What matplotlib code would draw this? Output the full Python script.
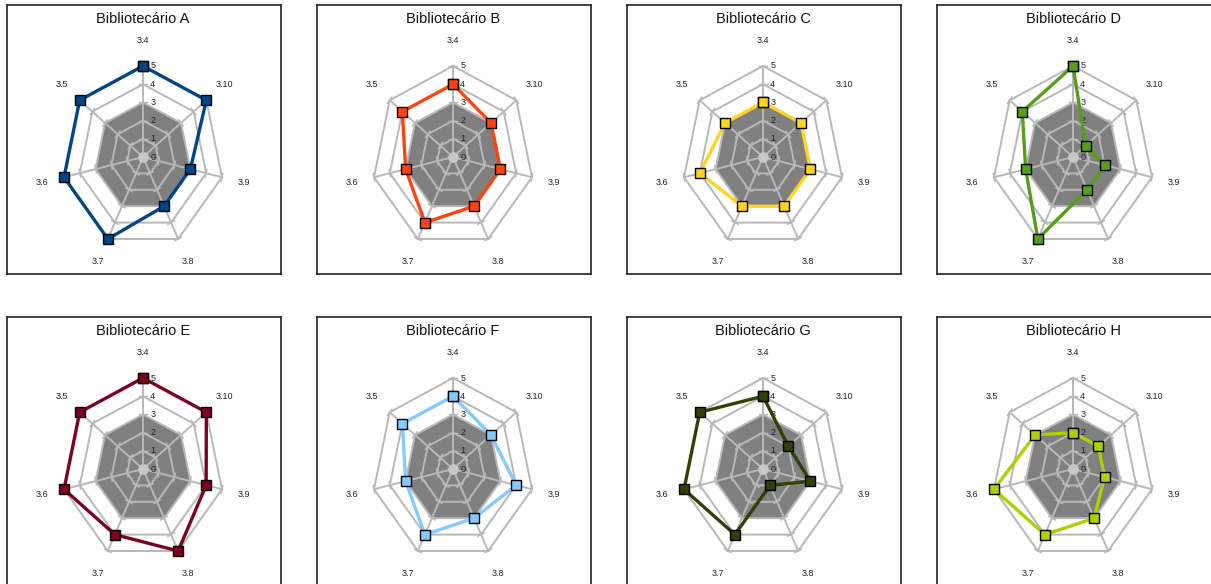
import numpy as np
import matplotlib
matplotlib.use("Agg")
import matplotlib.pyplot as plt

# axes clockwise from the top
categories = ["3.4", "3.10", "3.9", "3.8", "3.7", "3.6", "3.5"]
names = ["Bibliotecário A", "Bibliotecário B", "Bibliotecário C", "Bibliotecário D",
         "Bibliotecário E", "Bibliotecário F", "Bibliotecário G", "Bibliotecário H"]
scores_a = [5, 5, 3, 3, 5, 5, 5]
scores_b = [4, 3, 3, 3, 4, 3, 4]
scores_c = [3, 3, 3, 3, 3, 4, 3]
scores_d = [5, 1, 2, 2, 5, 3, 4]
scores_e = [5, 5, 4, 5, 4, 5, 5]
scores_f = [4, 3, 4, 3, 4, 3, 4]
scores_g = [4, 2, 3, 1, 4, 5, 5]
scores_h = [2, 2, 2, 3, 4, 5, 3]
reference_level = 3          # grey filled area
radial_ticks = [0, 1, 2, 3, 4, 5]

colors = ["#004586", "#ff420e", "#ffd320", "#579d1c",
          "#7e0021", "#83caff", "#314004", "#aecf00"]
all_scores = [scores_a, scores_b, scores_c, scores_d,
              scores_e, scores_f, scores_g, scores_h]

W, H = 1211, 584
fig = plt.figure(figsize=(W / 100, H / 100), dpi=100)
fig.patch.set_facecolor("white")

angles = np.arange(len(categories)) * 2 * np.pi / len(categories)
sx, sy = np.sin(angles), np.cos(angles)

# panel geometry in pixels
pw, ph = 274, 269
lefts = [7, 317, 627, 937]
widths = [274, 274, 274, 280]   # last column runs off the picture
tops = [5, 317]
cx, cy = 136, 152           # centre inside panel (from top-left)
ux, uy = 16.2, 18.2          # pixels per unit
grid_c = "#b8b8b8"


def closed(a):
    return np.append(a, a[0])


for k, (name, vals, col) in enumerate(zip(names, all_scores, colors)):
    left = lefts[k % 4]
    pw = widths[k % 4]
    top = tops[k // 4]
    ax = fig.add_axes([left / W, (H - top - ph) / H, pw / W, ph / H])
    ax.set_xlim(-cx / ux, (pw - cx) / ux)
    ax.set_ylim(-(ph - cy) / uy, cy / uy)
    ax.set_xticks([])
    ax.set_yticks([])
    for s in ax.spines.values():
        s.set_color("#222222")
        s.set_linewidth(1.2)

    # grey reference area
    ax.fill(closed(reference_level * sx), closed(reference_level * sy),
            color="#808080", zorder=1, lw=0)

    # rings + spokes
    for r in radial_ticks[1:]:
        ax.plot(closed(r * sx), closed(r * sy), color=grid_c, lw=1.4, zorder=2)
    for i in range(len(angles)):
        ax.plot([0, 5 * sx[i]], [0, 5 * sy[i]], color=grid_c, lw=1.4, zorder=2)
        # small tick marks across each spoke
        px, py = sy[i], -sx[i]
        for r in radial_ticks[1:]:
            ax.plot([r * sx[i] - 0.22 * px, r * sx[i] + 0.22 * px],
                    [r * sy[i] - 0.22 * py, r * sy[i] + 0.22 * py],
                    color=grid_c, lw=1.0, zorder=2)
    ax.scatter([0], [0], s=60, color="#c8c8c8", zorder=2, lw=0)

    # radial labels
    for r in radial_ticks:
        ax.text(0.45, r, str(r), fontsize=6.5, color="#222233",
                va="center", ha="left", family="Liberation Sans", zorder=3)

    # category labels
    for i, c in enumerate(categories):
        ax.text(6.4 * sx[i], 6.4 * sy[i], c, fontsize=6.5, color="#222222",
                ha="center", va="center", family="Liberation Sans")

    v = np.array(vals, dtype=float)
    ax.plot(closed(v * sx), closed(v * sy), color=col, lw=2.4, zorder=4,
            marker="s", markersize=7, markerfacecolor=col,
            markeredgecolor="black", markeredgewidth=1.0)

    ax.text(136 / pw, 1 - 14 / ph, name, transform=ax.transAxes, ha="center",
            va="center", fontsize=10.5, color="#111111", family="Liberation Sans")

fig.savefig("out.png", dpi=100, facecolor="white")
